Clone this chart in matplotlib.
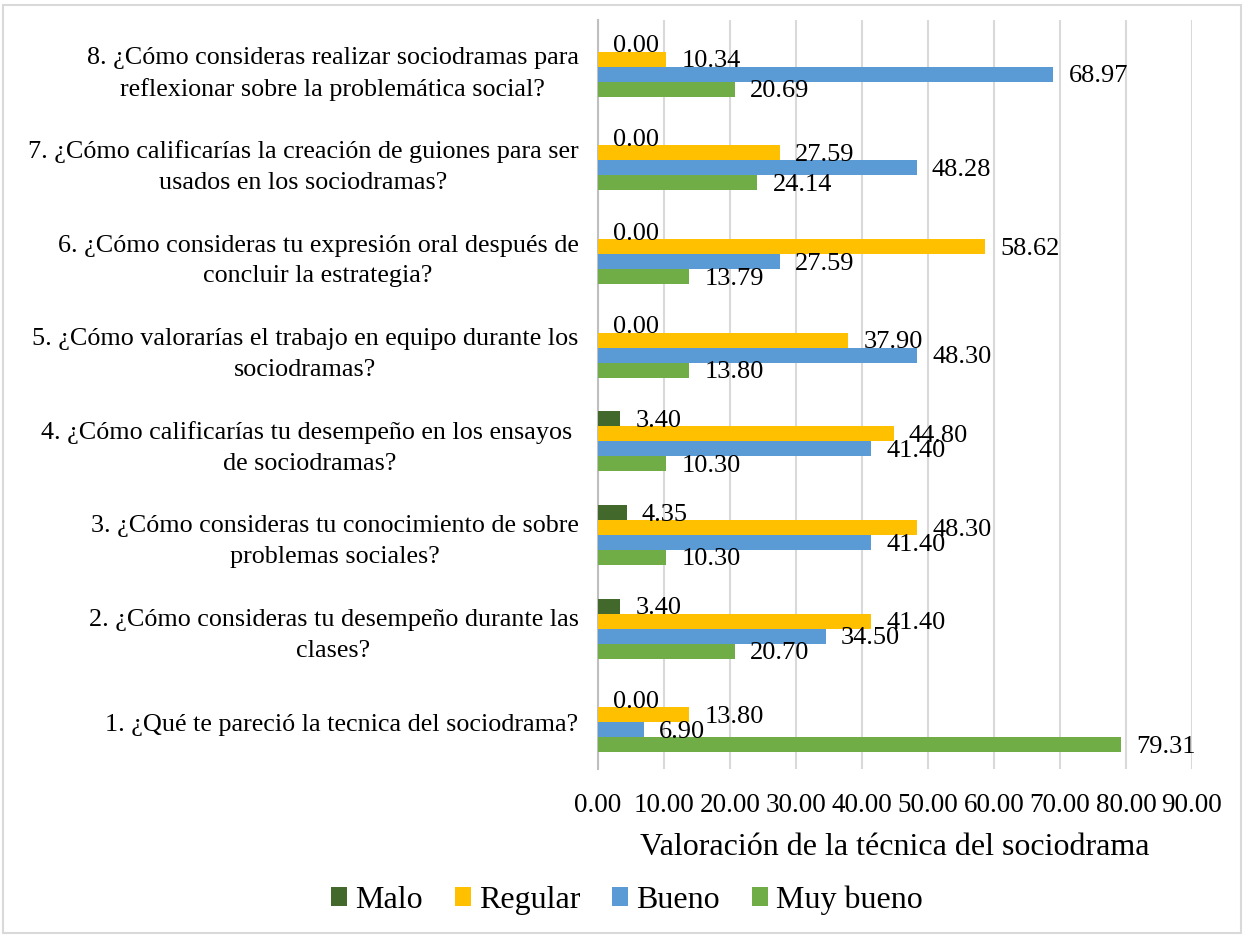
import matplotlib
matplotlib.use("Agg")
import matplotlib.pyplot as plt
from matplotlib.patches import Rectangle
import numpy as np

plt.rcParams['font.family'] = ['Liberation Serif', 'DejaVu Serif']

questions = [
    "1. ¿Qué te pareció la tecnica del sociodrama?",
    "2. ¿Cómo consideras tu desempeño durante las\nclases?",
    "3. ¿Cómo consideras tu conocimiento de sobre\nproblemas sociales?",
    "4. ¿Cómo calificarías tu desempeño en los ensayos \nde sociodramas?",
    "5. ¿Cómo valorarías el trabajo en equipo durante los\nsociodramas?",
    "6. ¿Cómo consideras tu expresión oral después de\nconcluir la estrategia?",
    "7. ¿Cómo calificarías la creación de guiones para ser\nusados en los sociodramas?",
    "8. ¿Cómo consideras realizar sociodramas para\nreflexionar sobre la problemática social?",
]
series_names = ["Malo", "Regular", "Bueno", "Muy bueno"]
malo      = [0.00, 3.40, 4.35, 3.40, 0.00, 0.00, 0.00, 0.00]
regular   = [13.80, 41.40, 48.30, 44.80, 37.90, 58.62, 27.59, 10.34]
bueno     = [6.90, 34.50, 41.40, 41.40, 48.30, 27.59, 48.28, 68.97]
muy_bueno = [79.31, 20.70, 10.30, 10.30, 13.80, 13.79, 24.14, 20.69]
x_ticks = [0, 10, 20, 30, 40, 50, 60, 70, 80, 90]
x_label = "Valoración de la técnica del sociodrama"

colors = ["#43682B", "#FFC000", "#5B9BD5", "#70AD47"]

W, H = 1244, 936
fig = plt.figure(figsize=(W/100, H/100), dpi=100)
fig.patches.append(Rectangle((3/W, 3/H), 1-6/W, 1-8/H, transform=fig.transFigure,
                             fill=False, edgecolor="#D9D9D9", linewidth=1.5))
ax = fig.add_axes([598/W, 1-769/H, (1192-598)/W, (769-20)/H])

y = np.arange(len(questions))
h = 0.16
offsets = [1.5*h, 0.5*h, -0.5*h, -1.5*h]
all_series = [malo, regular, bueno, muy_bueno]
handles = []
for vals, name, col, off in zip(all_series, series_names, colors, offsets):
    bars = ax.barh(y + off, vals, height=h, color=col, label=name, zorder=3)
    handles.append(bars)
    for yy, v in zip(y + off, vals):
        ax.annotate(f"{v:.2f}", xy=(v, yy), xytext=(11, -1.5), textcoords="offset points",
                    ha="left", va="center", fontsize=19, color="black", zorder=5)

ax.set_xlim(0, 90)
ax.set_ylim(-0.5, len(questions) - 0.5)
ax.set_xticks(x_ticks)
ax.set_xticklabels([f"{t:.2f}" for t in x_ticks], fontsize=19.5)
ax.set_yticks(y)
ax.set_yticklabels(questions, fontsize=18.8, ha="right", multialignment="center",
                   linespacing=1.5)
ax.tick_params(axis="both", length=0)
ax.tick_params(axis="x", pad=17)
ax.tick_params(axis="y", pad=14)
ax.grid(axis="x", color="#D9D9D9", linewidth=1.5, zorder=0)
for s in ["top", "right", "bottom"]:
    ax.spines[s].set_visible(False)
ax.spines["left"].set_color("#BFBFBF")
ax.spines["left"].set_linewidth(1.5)
ax.set_xlabel(x_label, fontsize=23, labelpad=11)

fig.legend(handles=handles, labels=series_names, loc="center", bbox_to_anchor=(627/W, 1-900/H),
           ncol=4, frameon=False, fontsize=23, handlelength=0.5, handleheight=0.5,
           columnspacing=1.0, handletextpad=0.25)

fig.savefig("out.png", dpi=100)
